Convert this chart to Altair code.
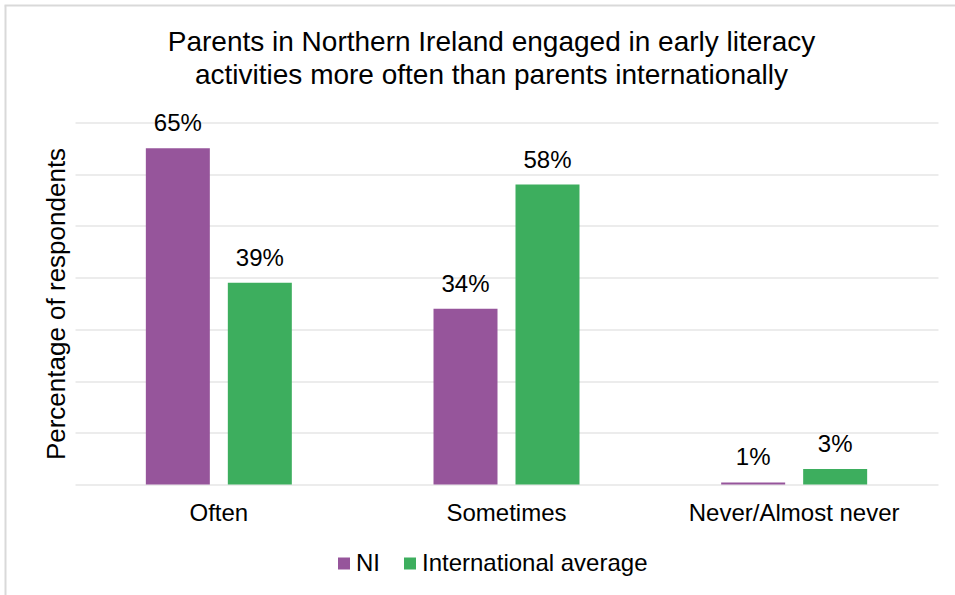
import altair as alt
import pandas as pd

categories = ["Often", "Sometimes", "Never/Almost never"]
series = ["NI", "International average"]
ni_values = [65, 34, 0.4]
intl_values = [39, 58, 3]
ni_labels = ["65%", "34%", "1%"]
intl_labels = ["39%", "58%", "3%"]
colors = ["#96559b", "#3dae5e"]
y_ticks = [0, 10, 20, 30, 40, 50, 60, 70]

rows = []
for c, v, l in zip(categories, ni_values, ni_labels):
    rows.append({"category": c, "series": series[0], "value": v, "label": l})
for c, v, l in zip(categories, intl_values, intl_labels):
    rows.append({"category": c, "series": series[1], "value": v, "label": l})
df = pd.DataFrame(rows)

FONT = "Liberation Sans"

x_enc = alt.X(
    "category:N",
    sort=categories,
    scale=alt.Scale(paddingInner=0, paddingOuter=0),
    axis=alt.Axis(
        title=None, labelAngle=0, labelFontSize=24, labelFont=FONT, labelLimit=400,
        labelColor="#000000", labelPadding=17, ticks=False, domain=False, grid=False,
    ),
)
xoff_enc = alt.XOffset(
    "series:N", sort=series,
    scale=alt.Scale(paddingInner=0.2195, paddingOuter=0.864),
)
y_enc = alt.Y(
    "value:Q",
    scale=alt.Scale(domain=[0, 70], nice=False),
    axis=alt.Axis(
        values=y_ticks, labels=False, ticks=False, domain=False,
        gridColor="#d9d9d9", gridWidth=1,
        title="Percentage of respondents", titleFont=FONT, titleFontSize=26,
        titleFontWeight="normal", titleColor="#000000", titlePadding=6,
    ),
)

bars = alt.Chart(df).mark_bar().encode(
    x=x_enc,
    xOffset=xoff_enc,
    y=y_enc,
    color=alt.Color(
        "series:N",
        scale=alt.Scale(domain=series, range=colors),
        legend=alt.Legend(
            title=None, orient="none", legendX=257, legendY=429,
            direction="horizontal", symbolType="square", symbolSize=144,
            symbolStrokeWidth=0, labelFont=FONT, labelFontSize=24, labelLimit=400,
            labelColor="#000000", labelOffset=0, columnPadding=18, padding=0,
        ),
    ),
)

labels = alt.Chart(df).mark_text(
    baseline="alphabetic", dy=-17, fontSize=24, font=FONT, color="#000000"
).encode(
    x=alt.X("category:N", sort=categories),
    xOffset=alt.XOffset("series:N", sort=series),
    y=alt.Y("value:Q"),
    text="label:N",
)

border_df = pd.DataFrame({"b": [0]})
left_border = alt.Chart(border_df).mark_rule(color="#d9d9d9", strokeWidth=2).encode(
    x=alt.value(-69.5), y=alt.value(-117), y2=alt.value(600)
)
top_border = alt.Chart(border_df).mark_rule(color="#d9d9d9", strokeWidth=2).encode(
    y=alt.value(-117), x=alt.value(-70.5), x2=alt.value(1000)
)

chart = alt.layer(bars, labels, left_border, top_border).properties(
    width=863,
    height=362,
    padding={"left": 75, "top": 122.5, "right": 17, "bottom": 110.5},
    autosize=alt.AutoSizeParams(type="none"),
    view=alt.ViewBackground(stroke="transparent", strokeWidth=0),
    title=alt.TitleParams(
        text=[
            "Parents in Northern Ireland engaged in early literacy",
            "activities more often than parents internationally",
        ],
        font=FONT, fontSize=28, fontWeight="normal", color="#000000",
        anchor="middle", lineHeight=33, offset=10, dx=-15, dy=95,
    ),
).configure_view(stroke="transparent", strokeWidth=0).configure(background="white")

chart.save("out.html", embed_options={"renderer": "svg", "actions": False})
